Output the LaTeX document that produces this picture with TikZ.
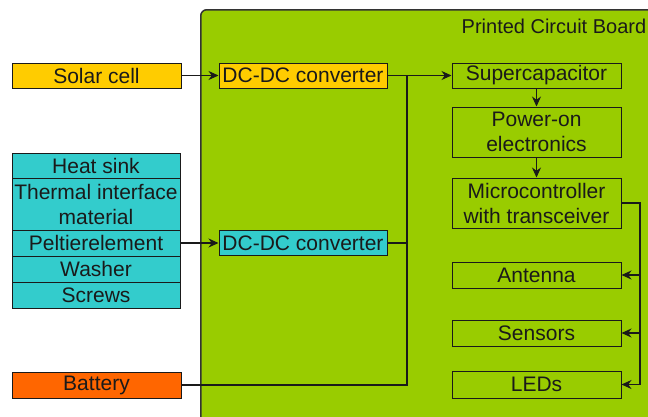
\documentclass[tikz,border=0pt]{standalone}
\usepackage{fontspec}
\setmainfont{Liberation Sans}
\usetikzlibrary{arrows.meta}
\definecolor{pcbgreen}{HTML}{99CC00}
\definecolor{solaryellow}{HTML}{FFCC00}
\definecolor{peltcyan}{HTML}{33CCCC}
\definecolor{battorange}{HTML}{FF6600}
\definecolor{inkc}{HTML}{1A1A1A}
\tikzset{
  box/.style={draw=inkc, line width=1pt, inner sep=0pt, align=center, text=inkc,
    font=\fontsize{21}{25}\selectfont},
  conn/.style={draw=inkc, line width=1.1pt},
  arr/.style={conn, -{Stealth[length=10pt,width=9pt]}},
}
\begin{document}
\begin{tikzpicture}[x=1pt,y=-1pt]
\useasboundingbox (0,0) rectangle (648,416);
\clip (0,0) rectangle (648,416);
% PCB
\node[draw=black!80, line width=1.5pt, fill=pcbgreen, rounded corners=6pt, inner sep=0pt,
  minimum width=470pt, minimum height=440pt, anchor=north west] (pcb) at (200,9) {};
\node[anchor=base west, inner sep=0pt, text=inkc, font=\fontsize{20}{25}\selectfont] (title) at (461.5,33) {Printed Circuit Board};
% left sources
\node[box, fill=solaryellow, minimum width=169pt, minimum height=25pt] (solar) at (96.5,75.5) {Solar cell};
\node[box, fill=peltcyan, minimum width=168pt, minimum height=25pt] (heat) at (96,165.5) {Heat sink};
\node[box, fill=peltcyan, minimum width=168pt, minimum height=52pt] (tim) at (96,204) {Thermal interface\\material};
\node[box, fill=peltcyan, minimum width=168pt, minimum height=26pt] (pelt) at (96,243) {Peltierelement};
\node[box, fill=peltcyan, minimum width=168pt, minimum height=26pt] (washer) at (96,269) {Washer};
\node[box, fill=peltcyan, minimum width=168pt, minimum height=26pt] (screws) at (96,295) {Screws};
\node[box, fill=battorange, minimum width=169pt, minimum height=26pt] (batt) at (96.5,385) {Battery};
% converters
\node[box, fill=solaryellow, minimum width=168pt, minimum height=25pt] (dc1) at (303,75.5) {DC-DC converter};
\node[box, fill=peltcyan, minimum width=168pt, minimum height=25pt] (dc2) at (303,243) {DC-DC converter};
% right column
\node[box, minimum width=169pt, minimum height=25pt] (sup) at (536.5,75.5) {Supercapacitor};
\node[box, minimum width=169pt, minimum height=50pt] (pwr) at (536.5,132) {Power-on\\electronics};
\node[box, minimum width=169pt, minimum height=50pt] (mcu) at (536.5,203) {Microcontroller\\with transceiver};
\node[box, minimum width=169pt, minimum height=26pt] (ant) at (536.5,275) {Antenna};
\node[box, minimum width=169pt, minimum height=26pt] (sens) at (536.5,333) {Sensors};
\node[box, minimum width=169pt, minimum height=27pt] (leds) at (536.5,384.5) {LEDs};
% junctions
\coordinate (j1) at (407,75.5);
\coordinate (j2) at (407,243);
\coordinate (j3) at (407,385);
\coordinate (b0) at (640,203);
\coordinate (b1) at (640,275);
\coordinate (b2) at (640,333);
\coordinate (b3) at (640,384.5);
% connectors
\draw[arr] (solar.east) -- (dc1.west);
\draw[arr] (pelt.east) -- (dc2.west);
\draw[arr] (dc1.east) -- (sup.west);
\draw[conn] (dc2.east) -- (j2);
\draw[conn] (batt.east) -- (j3) -- (j1);
\draw[arr] (sup.south) -- (pwr.north);
\draw[arr] (pwr.south) -- (mcu.north);
\draw[conn] (mcu.east) -- (b0) -- (b3);
\draw[arr] (b1) -- (ant.east);
\draw[arr] (b2) -- (sens.east);
\draw[arr] (b3) -- (leds.east);
\end{tikzpicture}
\end{document}
